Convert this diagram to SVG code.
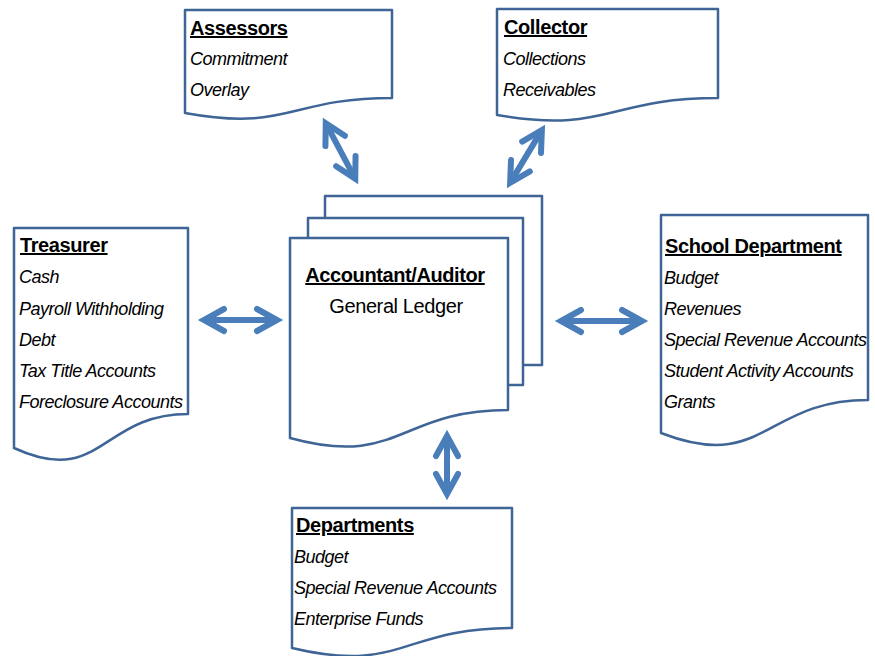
<svg xmlns="http://www.w3.org/2000/svg" width="875" height="656" viewBox="0 0 875 656">
<style>
.doc{fill:#ffffff;stroke:#3F6596;stroke-width:2.5;stroke-linejoin:round}
.h{font-family:"Liberation Sans",Arial,sans-serif;font-weight:bold;font-size:20px;letter-spacing:-0.4px;text-decoration:underline;fill:#000}
.i{font-family:"Liberation Sans",Arial,sans-serif;font-style:italic;font-size:18px;letter-spacing:-0.5px;fill:#000}
.r{font-family:"Liberation Sans",Arial,sans-serif;font-size:20px;letter-spacing:-0.4px;fill:#000}
.arr{fill:none;stroke:#4A7EBB;stroke-width:6}
</style>
<defs>
<marker id="ah" markerUnits="userSpaceOnUse" viewBox="-30 -20 50 40" markerWidth="50" markerHeight="40" refX="0" refY="0" orient="auto-start-reverse">
<path d="M-15,-11 L5,0 L-15,11" fill="none" stroke="#4A7EBB" stroke-width="6" stroke-linecap="round" stroke-linejoin="miter"/>
</marker>
</defs>

<g id="connectors">
<line class="arr" x1="209" y1="320" x2="272" y2="320" marker-start="url(#ah)" marker-end="url(#ah)"/>
<line class="arr" x1="566" y1="321" x2="637" y2="321" marker-start="url(#ah)" marker-end="url(#ah)"/>
<line class="arr" x1="328.1" y1="127.7" x2="352.9" y2="174.3" marker-start="url(#ah)" marker-end="url(#ah)"/>
<line class="arr" x1="539.3" y1="134.4" x2="512.7" y2="178.6" marker-start="url(#ah)" marker-end="url(#ah)"/>
<line class="arr" x1="447" y1="441" x2="447" y2="489" marker-start="url(#ah)" marker-end="url(#ah)"/>
</g>

<g id="assessors">
<path class="doc" d="M185,10 H392 V98 C288.5,98 288.5,132 185,113 Z"/>
<text class="h" x="190" y="35">Assessors</text>
<text class="i" x="190" y="65">Commitment</text>
<text class="i" x="190" y="96">Overlay</text>
</g>

<g id="collector">
<path class="doc" d="M497,9 H718 V98 C607.5,98 607.5,134 497,115 Z"/>
<text class="h" x="504" y="34">Collector</text>
<text class="i" x="503" y="65">Collections</text>
<text class="i" x="503" y="96">Receivables</text>
</g>

<g id="treasurer">
<path class="doc" d="M14,228 H188 V414 C101,414 101,488 14,448 Z"/>
<text class="h" x="20" y="252">Treasurer</text>
<text class="i" x="19" y="283">Cash</text>
<text class="i" x="19" y="315">Payroll Withholding</text>
<text class="i" x="19" y="346">Debt</text>
<text class="i" x="19" y="377">Tax Title Accounts</text>
<text class="i" x="19" y="408">Foreclosure Accounts</text>
</g>

<g id="accountant">
<path class="doc" d="M325,196 H542 V365 H325 Z"/>
<path class="doc" d="M308,218 H523 V385 H308 Z"/>
<path class="doc" d="M290,238 H508 V410 C399,410 399,468 290,438 Z"/>
<text class="h" x="395" y="282" text-anchor="middle">Accountant/Auditor</text>
<text class="r" x="396" y="313" text-anchor="middle">General Ledger</text>
</g>

<g id="school">
<path class="doc" d="M661,215 H868 V400 C764.5,400 764.5,473 661,433 Z"/>
<text class="h" x="665" y="253">School Department</text>
<text class="i" x="664" y="284">Budget</text>
<text class="i" x="664" y="315">Revenues</text>
<text class="i" x="664" y="346">Special Revenue Accounts</text>
<text class="i" x="664" y="377">Student Activity Accounts</text>
<text class="i" x="664" y="408">Grants</text>
</g>

<g id="departments">
<path class="doc" d="M292,508 H512 V628 C402,628 402,674 292,648 Z"/>
<text class="h" x="296" y="532">Departments</text>
<text class="i" x="294" y="563">Budget</text>
<text class="i" x="294" y="594">Special Revenue Accounts</text>
<text class="i" x="294" y="625">Enterprise Funds</text>
</g>
</svg>
